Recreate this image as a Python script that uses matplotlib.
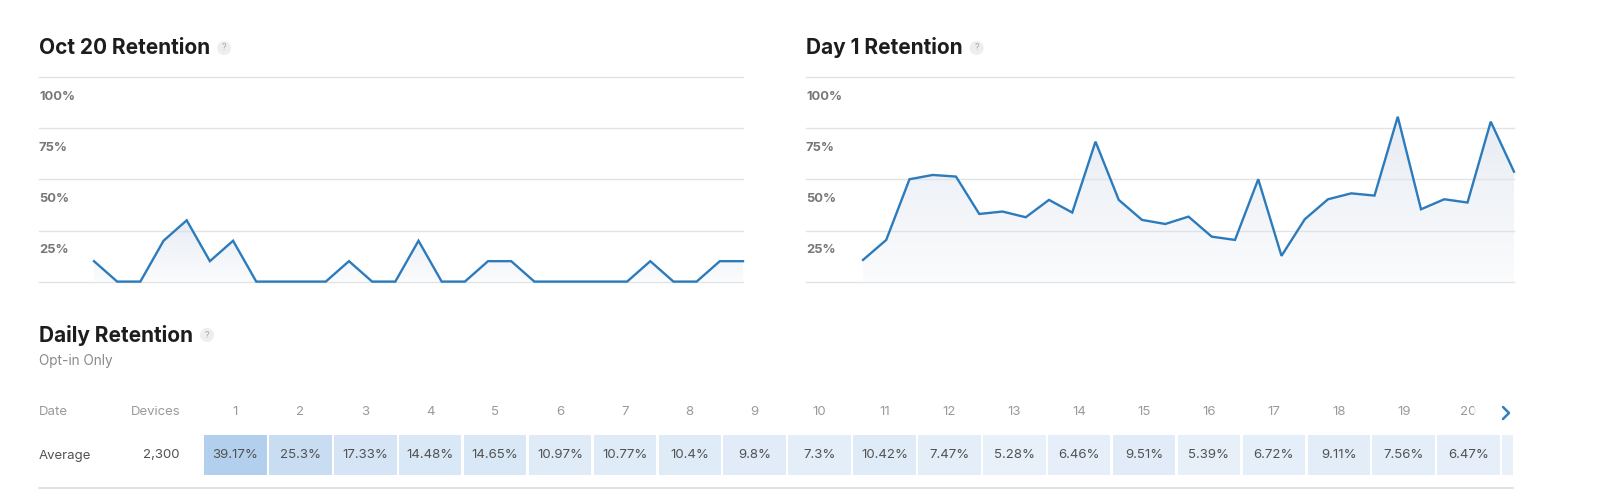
import matplotlib
matplotlib.use("Agg")
import matplotlib.pyplot as plt
import numpy as np
from matplotlib.patches import Rectangle, Polygon, Circle
from matplotlib.colors import LinearSegmentedColormap, Normalize

plt.rcParams['font.family'] = ['Inter', 'DejaVu Sans']

# ---- data ----
oct20_retention = [10, 0, 0, 20, 30, 10, 20, 0, 0, 0, 0, 10, 0, 0, 20, 0, 0,
                   10, 10, 0, 0, 0, 0, 0, 10, 0, 0, 10, 10]
day1_retention = [10.6, 20.4, 50.1, 52.2, 51.4, 33.1, 34.3, 31.5, 40.0, 33.8,
                  68.5, 40.0, 30.2, 28.2, 31.8, 22.0, 20.4, 50.1, 12.6, 30.5,
                  40.3, 43.2, 42.1, 80.7, 35.4, 40.3, 38.7, 78.3, 53.8]
y_ticks = [25, 50, 75, 100]
y_tick_labels = ['25%', '50%', '75%', '100%']

days = list(range(1, 21))
daily_avg = [39.17, 25.3, 17.33, 14.48, 14.65, 10.97, 10.77, 10.4, 9.8, 7.3,
             10.42, 7.47, 5.28, 6.46, 9.51, 5.39, 6.72, 9.11, 7.56, 6.47]
daily_labels = ['39.17%', '25.3%', '17.33%', '14.48%', '14.65%', '10.97%',
                '10.77%', '10.4%', '9.8%', '7.3%', '10.42%', '7.47%', '5.28%',
                '6.46%', '9.51%', '5.39%', '6.72%', '9.11%', '7.56%', '6.47%']
devices = '2,300'

W, H = 1600, 496
LINE = '#2b7bbd'
GRID = '#e3e3e3'

fig = plt.figure(figsize=(W / 100, H / 100), dpi=100)
fig.patch.set_facecolor('white')


def px_rect(x0, y0, x1, y1):
    # pixel box (top-left origin) -> figure fraction rect
    return [x0 / W, 1 - y1 / H, (x1 - x0) / W, (y1 - y0) / H]


def ftext(x, y, s, **kw):
    return fig.text(x / W, 1 - y / H, s, **kw)


def gradient_fill(ax, xs, ys):
    xs = np.asarray(xs, float)
    ys = np.asarray(ys, float)
    top = max(ys.max(), 1)
    grad = np.zeros((200, 1, 4))
    grad[:, 0, 0] = 0.86
    grad[:, 0, 1] = 0.89
    grad[:, 0, 2] = 0.93
    grad[:, 0, 3] = np.linspace(0.12, 0.65, 200)
    im = ax.imshow(grad, aspect='auto', origin='lower',
                   extent=[xs.min(), xs.max(), 0, top], zorder=1)
    verts = np.vstack([[xs[0], 0], np.column_stack([xs, ys]), [xs[-1], 0]])
    clip = Polygon(verts, closed=True, transform=ax.transData, facecolor='none',
                   edgecolor='none')
    ax.add_patch(clip)
    im.set_clip_path(clip)


def line_chart(x_left, x_first, x_last, values, title):
    n = len(values)
    step = (x_last - x_first) / (n - 1)
    ax = fig.add_axes(px_rect(x_left, 77.3, x_last, 281.6))
    xs = np.arange(n)
    gradient_fill(ax, xs, values)
    ax.plot(xs, values, color=LINE, lw=1.7, zorder=3, clip_on=False,
            solid_joinstyle='miter')
    for v in [0] + y_ticks:
        ax.axhline(v, color=GRID, lw=1.0, zorder=0, clip_on=False)
    for v, lab in zip(y_ticks, y_tick_labels):
        ax.text(-(x_first - x_left) / step, v - 9.6, lab, ha='left', va='center',
                fontsize=9.3, fontweight='bold', color='#777777')
    ax.set_xlim(-(x_first - x_left) / step, n - 1)
    ax.set_ylim(0, 100)
    ax.axis('off')
    return ftext(x_left, 48, title, fontsize=15, fontweight='bold',
                 color='#1d1d1f', ha='left', va='center')


t1 = line_chart(39, 94, 743, oct20_retention, 'Oct 20 Retention')
t2 = line_chart(806, 863, 1514, day1_retention, 'Day 1 Retention')
t3 = ftext(39, 335, 'Daily Retention', fontsize=15, fontweight='bold',
           color='#1d1d1f', ha='left', va='center')
ftext(39, 361, 'Opt-in Only', fontsize=9.8, color='#8a8a8a', ha='left', va='center')

# little "?" help badges after each title
fig.canvas.draw()
rend = fig.canvas.get_renderer()
for t, yc in [(t1, 48), (t2, 48), (t3, 335)]:
    bb = t.get_window_extent(rend)
    cx = bb.x1 + 14
    badge = Circle((cx, H - yc), 7, transform=None, facecolor='#eeeeee',
                   edgecolor='none')
    fig.patches.append(badge)
    fig.text(cx / W, 1 - yc / H, '?', fontsize=6.5, color='#a8a8a8',
             ha='center', va='center')

# ---- daily retention table ----
col_left = 203.0
col_w = 64.9
tab_right = 1513
n_cols_vis = (tab_right - col_left) / col_w
tax = fig.add_axes(px_rect(col_left, 395, tab_right, 490))
tax.set_xlim(0, n_cols_vis)
tax.set_ylim(490, 395)
tax.axis('off')

cmap = LinearSegmentedColormap.from_list('ret', ['#ffffff', '#6aa3dc'])
norm = Normalize(vmin=-10, vmax=86)
gap = 2.4 / col_w
for i, (d, v, lab) in enumerate(zip(days, daily_avg, daily_labels)):
    tax.add_patch(Rectangle((i + gap / 2, 435), 1 - gap, 40,
                            facecolor=cmap(norm(v)), edgecolor='none'))
    tax.text(i + 0.5, 455.5, lab, ha='center', va='center', fontsize=9.5,
             color='#525252')
    tax.text(i + 0.5, 412, str(d), ha='center', va='center', fontsize=9.5,
             color='#9a9a9a')
# next (cut off) column peeking out at the right edge
tax.add_patch(Rectangle((len(days) + gap / 2, 435), 1, 40,
                        facecolor=cmap(norm(min(daily_avg))), edgecolor='none'))
# fade the clipped header of the last column
tax.add_patch(Rectangle((len(days) - 0.42, 400), 0.42, 24, facecolor='white',
                        edgecolor='none', alpha=0.75, zorder=5))

ftext(39, 412, 'Date', fontsize=9.5, color='#9a9a9a', ha='left', va='center')
ftext(180, 412, 'Devices', fontsize=9.5, color='#9a9a9a', ha='right', va='center')
ftext(39, 455.5, 'Average', fontsize=9.5, color='#525252', ha='left', va='center')
ftext(180, 455.5, devices, fontsize=9.5, color='#525252', ha='right', va='center')

# bottom rule and the scroll chevron
fig.add_artist(plt.Line2D([39 / W, tab_right / W], [1 - 488 / H, 1 - 488 / H],
                          color='#dddddd', lw=1.2))
cx, cy = 1506, 413
fig.add_artist(plt.Line2D([(cx - 3) / W, (cx + 3) / W, (cx - 3) / W],
                          [1 - (cy - 6) / H, 1 - cy / H, 1 - (cy + 6) / H],
                          color='#2f7fc1', lw=1.8, solid_capstyle='round'))

fig.savefig('out.png', dpi=100, facecolor='white')
